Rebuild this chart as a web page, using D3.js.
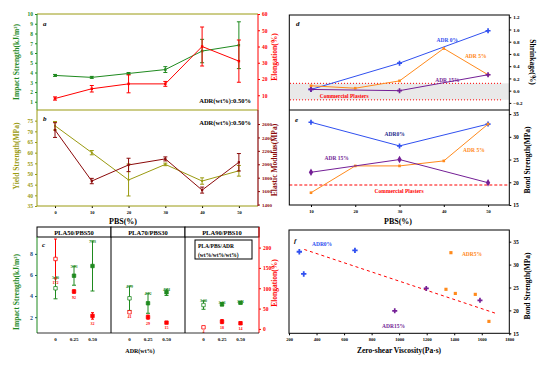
<!DOCTYPE html>
<html>
<head>
<meta charset="utf-8">
<script src="https://cdn.jsdelivr.net/npm/d3@7"></script>
<style>
  body { margin: 0; background: #fff; }
  text { font-family: "Liberation Serif", "Times New Roman", serif; }
</style>
</head>
<body>
<svg id="chart" width="539" height="367"></svg>
<script>
// ---- data ----
const pbsAB = [0, 10, 20, 30, 40, 50];
const impactA = [3.7, 3.5, 3.9, 4.3, 6.2, 6.8];
const impactAErr = [0.1, 0.1, 0.1, 0.3, 1.2, 2.4];
const elongA = [8, 14, 17, 17, 40, 31];
const elongAErr = [1, 2, 5.5, 1.5, 12, 13];
const yieldB = [72.6, 60, 47.2, 54.5, 46.7, 51.5];
const yieldBErr = [2, 1, 7.5, 0.6, 1.5, 2.5];
const modulusB = [2510, 1750, 1990, 2080, 1615, 2030];
const modulusBErr = [110, 40, 100, 30, 45, 130];

const blendsC = ['PLA50/PBS50', 'PLA70/PBS30', 'PLA90/PBS10'];
const adrC = ['0', '0.25', '0.50'];
const impactC = [[4.74, 5.93, 6.85], [3.79, 3.32, 4.36], [3.15, 3.22, 3.37]];
const impactCErr = [[1.0, 0.9, 2.37], [1.15, 0.95, 0.3], [0.4, 0.15, 0.1]];
const elongC = [[172, 92, 32], [41, 29, 15.5], [4, 18, 14]];
const elongCErr = [[49, 4, 8], [0, 5, 2], [0, 5, 3]];
const impactCLabels = [['5.70', '5.93', '7.63'], ['4.79', '4.12', '4.44'], ['3.60', '3.36', '3.41']];
const elongCLabels = [['172', '92', '32'], ['41', '29', '15'], ['4', '18', '14']];

const pbsDE = [10, 20, 30, 40, 50];
const pbsADR0 = [10, 30, 50];
const pbsADR15 = [10, 30, 50];
const shrinkADR0 = [0.02, 0.45, 0.98];
const shrinkADR5 = [0.08, 0.04, 0.16, 0.69, 0.26];
const shrinkADR15 = [0.02, 0.0, 0.26];
const commercialShrink = [-0.15, 0.12];

const bondADR0 = [33.2, 28.0, 32.8];
const bondADR5 = [17.7, 23.6, 23.6, 24.7, 32.8];
const bondADR15 = [22.2, 25.0, 19.9];
const commercialBond = 19.4;

const viscADR0 = [275, 307, 679];
const bondFADR0 = [32.8, 27.95, 33.1];
const viscADR5 = [1376, 1340, 1408, 1553, 1652];
const bondFADR5 = [32.6, 24.6, 23.7, 23.5, 17.6];
const viscADR15 = [968, 1197, 1587];
const bondFADR15 = [19.9, 24.8, 22.2];
const trendVisc = [311, 1707];
const trendBond = [33.3, 19.3];

// ---- colours ----
const GREEN = '#1f8a1f';
const RED = '#ff0000';
const OLIVE = '#9a9a10';
const DARKRED = '#8b0a0a';
const BLUE = '#3050f0';
const NAVY = '#1c2a8c';
const ORANGE = '#ff8a1c';
const PURPLE = '#741f96';
const TEAL = '#1f4f7f';

const svg = d3.select('#chart');

function styleAxis(g, color, size) {
  g.select('.domain').remove();
  g.selectAll('.tick line').attr('stroke', color);
  g.selectAll('.tick text').attr('fill', color).attr('font-size', size).attr('font-weight', 'bold');
}

function vline(x, y0, y1, color, w) {
  svg.append('line').attr('x1', x).attr('x2', x).attr('y1', y0).attr('y2', y1)
    .attr('stroke', color).attr('stroke-width', w || 1);
}
function hline(y, x0, x1, color, w) {
  svg.append('line').attr('x1', x0).attr('x2', x1).attr('y1', y).attr('y2', y)
    .attr('stroke', color).attr('stroke-width', w || 1);
}

function label(x, y, txt, color, size, opts) {
  const t = svg.append('text').attr('x', x).attr('y', y).attr('fill', color)
    .attr('font-size', size).attr('font-weight', 'bold').text(txt);
  if (opts && opts.anchor) t.attr('text-anchor', opts.anchor);
  if (opts && opts.italic) t.attr('font-style', 'italic');
  return t;
}

function rotTitle(x, y, txt, color, rot) {
  svg.append('text').attr('transform', 'translate(' + x + ',' + y + ') rotate(' + rot + ')')
    .attr('text-anchor', 'middle').attr('fill', color).attr('font-size', 7.5)
    .attr('font-weight', 'bold').text(txt);
}

function series(xs, ys, x, y, color, symbol, size, open) {
  const pts = xs.map((v, i) => [v, ys[i]]);
  svg.append('path').datum(pts)
    .attr('d', d3.line().x(d => x(d[0])).y(d => y(d[1])))
    .attr('fill', 'none').attr('stroke', color).attr('stroke-width', 1);
  svg.append('g').selectAll('path').data(pts).join('path')
    .attr('d', d3.symbol(symbol, size))
    .attr('transform', d => 'translate(' + x(d[0]) + ',' + y(d[1]) + ')')
    .attr('fill', open ? '#fff' : color).attr('stroke', open ? color : 'none');
}

function errorBars(xs, ys, errs, x, y, color, cap) {
  xs.forEach((v, i) => {
    const e = errs[i];
    if (!e) return;
    const cx = x(v), ya = y(ys[i] - e), yb = y(ys[i] + e);
    vline(cx, ya, yb, color, 1);
    hline(ya, cx - cap, cx + cap, color, 1);
    hline(yb, cx - cap, cx + cap, color, 1);
  });
}

// ================= panel a =================
const xAB = d3.scaleLinear().domain([-4.9, 55.2]).range([37, 258]);
const yImpactA = d3.scaleLinear().domain([0, 10]).range([111.5, 14]);
const yElongA = d3.scaleLinear().domain([0, 60]).range([111.5, 14]);

svg.append('g').attr('transform', 'translate(37,0)')
  .call(d3.axisLeft(yImpactA).tickValues(d3.range(1, 11)).tickSize(2).tickPadding(2))
  .call(g => styleAxis(g, GREEN, 5.5));
svg.append('g').attr('transform', 'translate(258,0)')
  .call(d3.axisRight(yElongA).tickValues(d3.range(10, 61, 10)).tickSize(2).tickPadding(2))
  .call(g => styleAxis(g, RED, 5.5));
hline(14, 37, 258, OLIVE, 1);
vline(37, 14, 110, GREEN, 1);
vline(258, 14, 110, RED, 1);

errorBars(pbsAB, impactA, impactAErr, xAB, yImpactA, GREEN, 2);
series(pbsAB, impactA, xAB, yImpactA, GREEN, d3.symbolSquare, 6);
errorBars(pbsAB, elongA, elongAErr, xAB, yElongA, RED, 2);
series(pbsAB, elongA, xAB, yElongA, RED, d3.symbolSquare, 6);

label(43, 26, 'a', '#000', 7, { italic: true });
label(251, 103, 'ADR(wt%):0.50%', '#000', 6.5, { anchor: 'end' });
rotTitle(19, 62, 'Impact Strength(kJ/m²)', GREEN, -90);
rotTitle(277, 57, 'Elongation(%)', RED, -90);

// ================= panel b =================
const yYieldB = d3.scaleLinear().domain([35, 80]).range([206, 110]);
const yModB = d3.scaleLinear().domain([1378, 2809]).range([206, 110]);

svg.append('g').attr('transform', 'translate(37,0)')
  .call(d3.axisLeft(yYieldB).tickValues(d3.range(35, 76, 5)).tickSize(2).tickPadding(2))
  .call(g => styleAxis(g, OLIVE, 5.5));
svg.append('g').attr('transform', 'translate(258,0)')
  .call(d3.axisRight(yModB).tickValues(d3.range(1400, 2601, 200)).tickSize(2).tickPadding(2)
    .tickFormat(d3.format('d')))
  .call(g => styleAxis(g, DARKRED, 5));
svg.append('g').attr('transform', 'translate(0,206)')
  .call(d3.axisBottom(xAB).tickValues(pbsAB).tickSize(2).tickPadding(3))
  .call(g => styleAxis(g, '#000', 4.5));
hline(110, 37, 258, OLIVE, 1.2);
hline(206, 37, 258, OLIVE, 1);
vline(37, 110, 206, OLIVE, 1);
vline(258, 110, 206, DARKRED, 1.2);

errorBars(pbsAB, yieldB, yieldBErr, xAB, yYieldB, OLIVE, 2);
series(pbsAB, yieldB, xAB, yYieldB, OLIVE, d3.symbolSquare, 3);
errorBars(pbsAB, modulusB, modulusBErr, xAB, yModB, DARKRED, 2);
series(pbsAB, modulusB, xAB, yModB, DARKRED, d3.symbolSquare, 5);

label(43, 121, 'b', '#000', 7, { italic: true });
label(251, 125, 'ADR(wt%):0.50%', '#000', 6.5, { anchor: 'end' });
label(123, 224, 'PBS(%)', '#000', 8, { anchor: 'middle' });
rotTitle(19, 156, 'Yield Strength(MPa)', OLIVE, -90);
rotTitle(277, 160, 'Elastic Modulus(MPa)', DARKRED, -90);

// ================= panel c =================
const blendC = d3.scaleBand().domain(blendsC).range([37, 259]);
const innerC = d3.scalePoint().domain(adrC).range([18.5, 55.5]);
const yImpactC = d3.scaleLinear().domain([0.5, 9.6]).range([333, 237]);
const yElongC = d3.scaleLinear().domain([-10, 226]).range([333, 237]);

svg.append('g').attr('transform', 'translate(37,0)')
  .call(d3.axisLeft(yImpactC).tickValues([2, 4, 6, 8]).tickSize(2).tickPadding(2))
  .call(g => styleAxis(g, TEAL, 6));
svg.append('g').attr('transform', 'translate(259,0)')
  .call(d3.axisRight(yElongC).tickValues([0, 50, 100, 150, 200]).tickSize(2).tickPadding(2))
  .call(g => styleAxis(g, RED, 5.5));

blendsC.forEach((b, bi) => {
  const left = blendC(b);
  const w = blendC.bandwidth();
  svg.append('rect').attr('x', left).attr('y', 227).attr('width', w).attr('height', 10)
    .attr('fill', '#fff').attr('stroke', '#000').attr('stroke-width', 1);
  label(left + w / 2, 234.8, b, '#000', 6.5, { anchor: 'middle' });
  if (bi > 0) vline(left, 237, 333, '#000', 1);
  const xc = a => left + innerC(a);

  // tick labels along the bottom
  adrC.forEach(a => label(xc(a), 341, a, '#000', 5, { anchor: 'middle' }));

  errorBars(adrC, impactC[bi], impactCErr[bi], xc, yImpactC, GREEN, 2);
  errorBars(adrC, elongC[bi], elongCErr[bi], xc, yElongC, RED, 1.5);
  adrC.forEach((a, ai) => {
    const open = ai === 0;
    svg.append('path').attr('d', d3.symbol(d3.symbolSquare, 12))
      .attr('transform', 'translate(' + xc(a) + ',' + yImpactC(impactC[bi][ai]) + ')')
      .attr('fill', open ? '#fff' : GREEN).attr('stroke', GREEN).attr('stroke-width', 0.8);
    svg.append('path').attr('d', d3.symbol(d3.symbolSquare, 12))
      .attr('transform', 'translate(' + xc(a) + ',' + yElongC(elongC[bi][ai]) + ')')
      .attr('fill', open ? '#fff' : RED).attr('stroke', RED).attr('stroke-width', 0.8);
    label(xc(a), yImpactC(impactC[bi][ai] + impactCErr[bi][ai]) + 1.5, impactCLabels[bi][ai], GREEN, 4, { anchor: 'middle' });
    label(xc(a), yElongC(elongC[bi][ai] - elongCErr[bi][ai]) + 5.5, elongCLabels[bi][ai], RED, 4, { anchor: 'middle' });
  });
});
vline(37, 237, 333, GREEN, 1);
vline(259, 227, 333, RED, 1);
hline(333, 37, 259, '#000', 0.8);

// legend box in third sub-panel
const lgLeft = blendC(blendsC[2]) + 10;
svg.append('rect').attr('x', lgLeft).attr('y', 240).attr('width', 57).attr('height', 19)
  .attr('fill', '#fff').attr('stroke', '#000').attr('stroke-width', 1);
label(lgLeft + 3, 248, 'PLA/PBS/ADR', '#000', 5.5);
label(lgLeft + 3, 256.5, '(wt%/wt%/wt%)', '#000', 5.5);

label(42, 247, 'c', '#000', 7, { italic: true });
label(140, 353, 'ADR(wt%)', '#000', 6, { anchor: 'middle' });
rotTitle(19, 292, 'Impact Strength(kJ/m²)', GREEN, -90);
rotTitle(277, 283, 'Elongation(%)', RED, -90);

// ================= panel d =================
const xDE = d3.scaleLinear().domain([5.1, 54.8]).range([289.3, 509.3]);
const yD = d3.scaleLinear().domain([-0.316, 1.237]).range([110, 15]);

svg.append('rect').attr('x', 289.3).attr('width', 220).attr('y', yD(commercialShrink[1]))
  .attr('height', yD(commercialShrink[0]) - yD(commercialShrink[1])).attr('fill', '#e9e9e9');
commercialShrink.forEach(v => {
  svg.append('line').attr('x1', 290).attr('x2', 503).attr('y1', yD(v)).attr('y2', yD(v))
    .attr('stroke', RED).attr('stroke-width', 1).attr('stroke-dasharray', '1,2');
});
svg.append('g').attr('transform', 'translate(509.3,0)')
  .call(d3.axisRight(yD).tickValues([-0.2, 0, 0.2, 0.4, 0.6, 0.8, 1.0, 1.2]).tickSize(2).tickPadding(2)
    .tickFormat(d3.format('.1f')))
  .call(g => styleAxis(g, '#000', 5));

series(pbsADR0, shrinkADR0, xDE, yD, BLUE, d3.symbolCross, 14);
series(pbsDE, shrinkADR5, xDE, yD, ORANGE, d3.symbolSquare, 7);
series(pbsADR15, shrinkADR15, xDE, yD, PURPLE, d3.symbolCross, 14);

label(xDE(40.8), yD(0.80), 'ADR 0%', BLUE, 5.5, { anchor: 'middle' });
label(xDE(47.2), yD(0.53), 'ADR 5%', ORANGE, 5.5, { anchor: 'middle' });
label(xDE(40.8), yD(0.14), 'ADR 15%', PURPLE, 5.5, { anchor: 'middle' });
label(xDE(17.5), yD(-0.127), 'Commercial Plasters', RED, 5.5, { anchor: 'middle' });
label(296, 26, 'd', '#000', 7, { italic: true });
rotTitle(530, 62, 'Shrinkage(%)', '#000', 90);

// ================= panel e =================
const yE = d3.scaleLinear().domain([15, 35.9]).range([205, 110]);

svg.append('line').attr('x1', 289.3).attr('x2', 509.3).attr('y1', yE(commercialBond)).attr('y2', yE(commercialBond))
  .attr('stroke', RED).attr('stroke-width', 1).attr('stroke-dasharray', '3,2');
svg.append('g').attr('transform', 'translate(509.3,0)')
  .call(d3.axisRight(yE).tickValues([15, 20, 25, 30, 35]).tickSize(2).tickPadding(2))
  .call(g => styleAxis(g, '#000', 5.5));
svg.append('g').attr('transform', 'translate(0,205)')
  .call(d3.axisBottom(xDE).tickValues(pbsDE).tickSize(2).tickPadding(3))
  .call(g => styleAxis(g, '#000', 4.5));

series(pbsADR0, bondADR0, xDE, yE, BLUE, d3.symbolCross, 14);
series(pbsDE, bondADR5, xDE, yE, ORANGE, d3.symbolSquare, 7);
series(pbsADR15, bondADR15, xDE, yE, PURPLE, d3.symbolDiamond, 16);

label(xDE(28.9), yE(30.2), 'ADR0%', NAVY, 5.5, { anchor: 'middle' });
label(xDE(46.8), yE(26.7), 'ADR 5%', ORANGE, 5.5, { anchor: 'middle' });
label(xDE(15.8), yE(24.9), 'ADR 15%', PURPLE, 5.5, { anchor: 'middle' });
label(xDE(29.9), yE(17.75), 'Commercial Plasters', RED, 5.5, { anchor: 'middle' });
label(295, 122, 'e', '#000', 7, { italic: true });
label(398, 224, 'PBS(%)', '#000', 8, { anchor: 'middle' });
rotTitle(530, 160, 'Bond Strength(MPa)', '#000', -90);

// frame d + e
svg.append('rect').attr('x', 289.3).attr('y', 15).attr('width', 220).attr('height', 190)
  .attr('fill', 'none').attr('stroke', '#000').attr('stroke-width', 1);
hline(110, 289.3, 509.3, '#000', 1);

// ================= panel f =================
const xF = d3.scaleLinear().domain([200, 1800]).range([289, 509.3]);
const yF = d3.scaleLinear().domain([15, 37.55]).range([333.3, 230]);

svg.append('g').attr('transform', 'translate(509.3,0)')
  .call(d3.axisRight(yF).tickValues([15, 20, 25, 30, 35]).tickSize(2).tickPadding(2))
  .call(g => styleAxis(g, '#000', 5.5));
svg.append('g').attr('transform', 'translate(0,333.3)')
  .call(d3.axisBottom(xF).tickValues(d3.range(200, 1801, 200)).tickSize(2).tickPadding(3)
    .tickFormat(d3.format('d')))
  .call(g => styleAxis(g, '#000', 4.5));

svg.append('path').datum(trendVisc.map((v, i) => [v, trendBond[i]]))
  .attr('d', d3.line().x(d => xF(d[0])).y(d => yF(d[1])))
  .attr('stroke', RED).attr('stroke-width', 1).attr('stroke-dasharray', '3,3').attr('fill', 'none');

function scatter(xs, ys, color, symbol, size) {
  svg.append('g').selectAll('path').data(xs.map((v, i) => [v, ys[i]])).join('path')
    .attr('d', d3.symbol(symbol, size))
    .attr('transform', d => 'translate(' + xF(d[0]) + ',' + yF(d[1]) + ')')
    .attr('fill', color);
}
scatter(viscADR0, bondFADR0, BLUE, d3.symbolCross, 16);
scatter(viscADR5, bondFADR5, ORANGE, d3.symbolSquare, 10);
scatter(viscADR15, bondFADR15, PURPLE, d3.symbolCross, 14);

svg.append('rect').attr('x', 289).attr('y', 230).attr('width', 220.3).attr('height', 103.3)
  .attr('fill', 'none').attr('stroke', '#000').attr('stroke-width', 1);

label(xF(440), yF(34.06), 'ADR0%', BLUE, 5.5, { anchor: 'middle' });
label(xF(1529), yF(31.8), 'ADR5%', ORANGE, 5.5, { anchor: 'middle' });
label(xF(959), yF(16.2), 'ADR15%', PURPLE, 5.5, { anchor: 'middle' });
label(294, 243, 'f', '#000', 7, { italic: true });
label(399, 353, 'Zero-shear Viscosity(Pa·s)', '#000', 7.5, { anchor: 'middle' });
rotTitle(530, 286, 'Bond Strength(MPa)', '#000', -90);
</script>
</body>
</html>
